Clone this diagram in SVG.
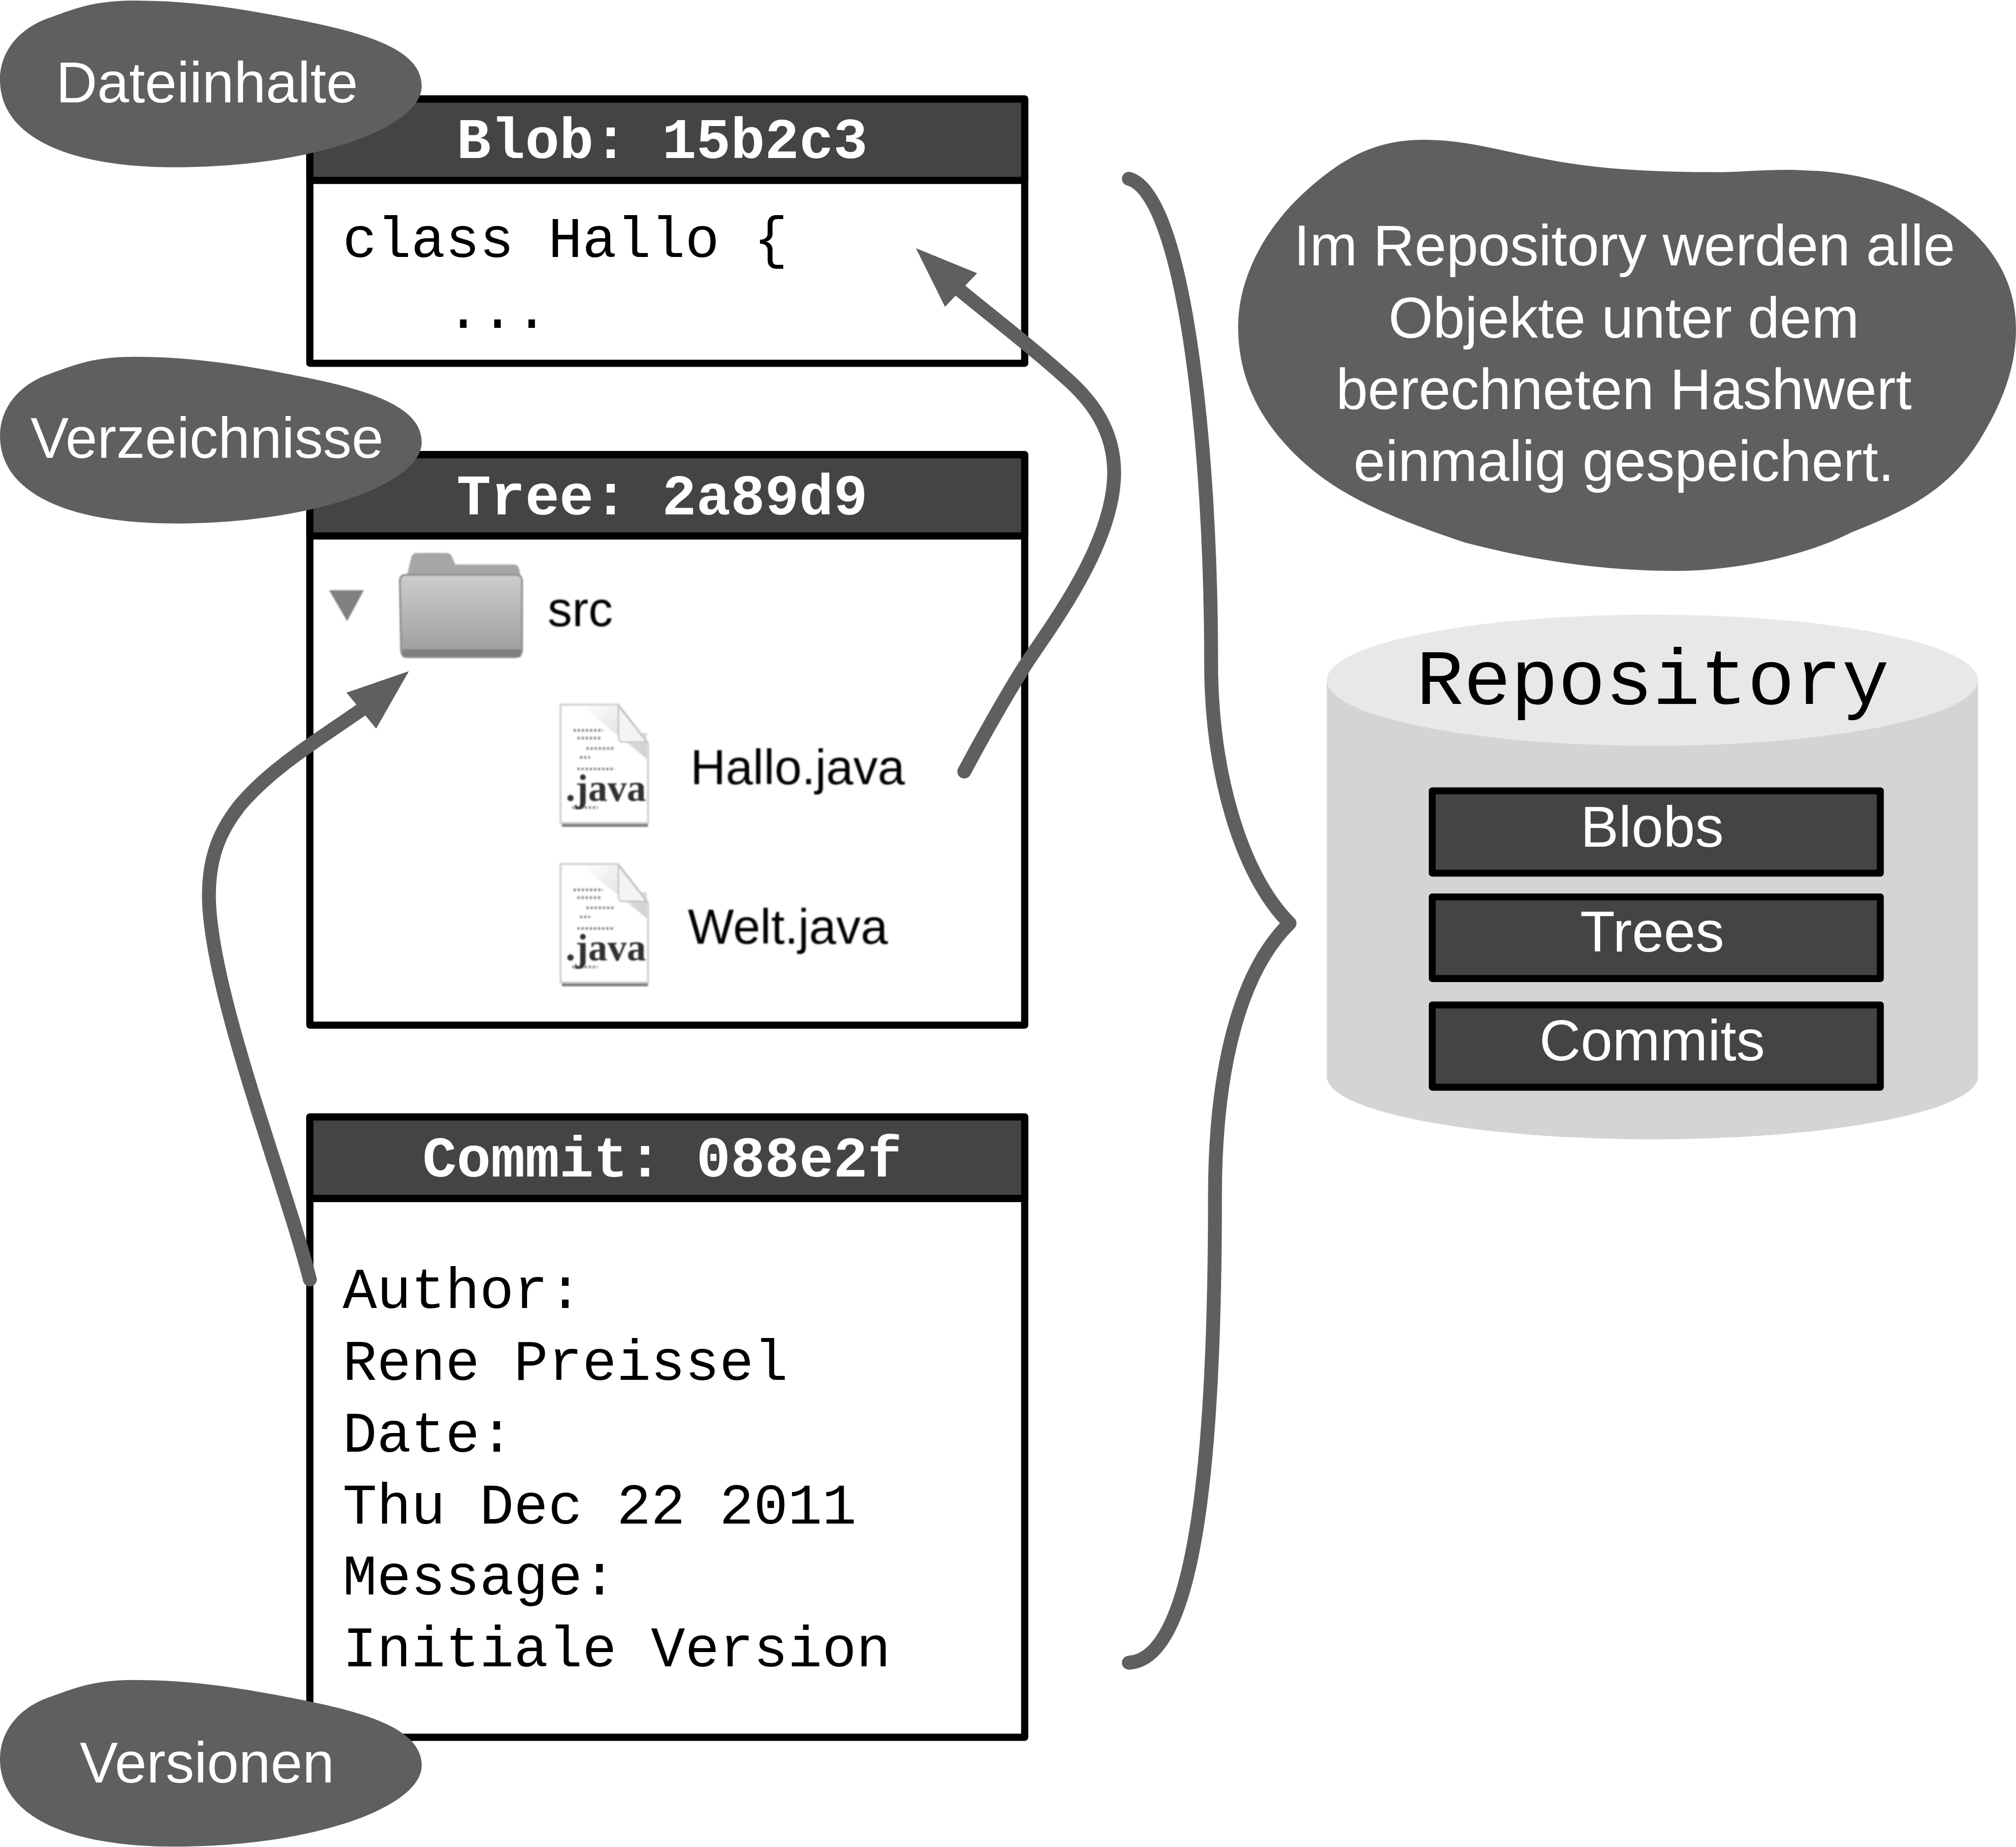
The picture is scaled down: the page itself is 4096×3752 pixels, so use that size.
<svg xmlns="http://www.w3.org/2000/svg" xmlns:xlink="http://www.w3.org/1999/xlink" width="4096" height="3752" viewBox="0 0 4096 3752">
<style>
.box{fill:#fff;stroke:#000;stroke-width:5.6;stroke-linejoin:round}
.hd{fill:#444;stroke:#000;stroke-width:5.6;stroke-linejoin:round}
.ht{font:bold 44.4px "Liberation Mono",monospace;fill:#fff;text-anchor:middle}
.mono{font:44.4px "Liberation Mono",monospace;fill:#000}
.blob{fill:#5f5f5f}
.lbl{font:44.5px "Liberation Sans",Arial,sans-serif;fill:#fff;text-anchor:middle}
.ft{font:38px "Liberation Sans",Arial,sans-serif;fill:#000;filter:url(#soft)}
.jv{font:bold 30px "Liberation Serif",serif;fill:#333;filter:url(#soft)}
.link{fill:none;stroke:#5f5f5f;stroke-width:10.8;stroke-linecap:round;stroke-linejoin:round}
.head{fill:#5f5f5f}
.store{fill:#444;stroke:#000;stroke-width:5.4;stroke-linejoin:round}
</style>
<defs>
<filter id="soft" x="-10%" y="-10%" width="120%" height="120%"><feGaussianBlur stdDeviation="0.7"/></filter>
<linearGradient id="fg" x1="0" y1="0" x2="0" y2="1"><stop offset="0" stop-color="#cdcdcd"/><stop offset="1" stop-color="#9c9c9c"/></linearGradient>
<linearGradient id="fold" x1="0" y1="0" x2="1" y2="1"><stop offset="0" stop-color="#fff"/><stop offset="1" stop-color="#bdbdbd"/></linearGradient>
<path id="callout" d="M101 .5C150 0 195 8 235 16C290 27 328 40 328 67C328 98 250 128 146 130C50 131.800 0 105 0 62C0 40 15 22 38 14C55 8 70 1 101 .5Z"/>
<g id="doc" filter="url(#soft)">
<rect x="437" y="638" width="67" height="5" fill="#7c7c7c"/>
<path d="M436 548H481L504 578V640H436Z" fill="#fff" stroke="#cfcfcf" stroke-width="1.5"/>
<path d="M452 549H481V570H503V590Z" fill="url(#fold)" opacity=".75"/>
<path d="M481 549L503 577H484Q481 577 481 572Z" fill="#f4f4f4" stroke="#bdbdbd" stroke-width="1"/>
<path d="M446 568h23M449 574h18M456 582h22M451 589h8M449 598h29M445 628h20" stroke="#8c8c8c" stroke-width="2.2" stroke-dasharray="2 1.2" fill="none"/>
</g>
</defs>
<g transform="scale(2.6122)">
<g id="blob-box">
<rect class="box" x="241" y="77" width="556" height="205.500"/>
<rect class="hd" x="241" y="77" width="556" height="63.300"/>
<text class="ht" x="515" y="123">Blob: 15b2c3</text>
<text class="mono" x="266.500" y="200">class Hallo {</text>
<text class="mono" x="347" y="255">...</text>
</g>
<g id="tree-box">
<rect class="box" x="241" y="353.600" width="556" height="443.600"/>
<rect class="hd" x="241" y="353.600" width="556" height="63.200"/>
<text class="ht" x="515" y="400">Tree: 2a89d9</text>
<path d="M256 459H283L270 483Z" fill="#808080" filter="url(#soft)"/>
<g id="folder" filter="url(#soft)">
<path d="M316 450L320 433Q321 430 324 430H347Q351 430 352 434L354 439H400Q403 439 404 443L405 450Z" fill="#a6a6a6"/>
<path d="M311 452Q311 447 316 447H401Q406 447 406 452V505Q406 511 400 511H317Q312 511 312 505Z" fill="url(#fg)" stroke="#8f8f8f" stroke-width="1.5"/>
<rect x="313" y="505" width="92" height="6" fill="#7f7f7f"/>
</g>
<text class="ft" x="426" y="487">src</text>
<use xlink:href="#doc" href="#doc"/>
<text class="jv" x="440" y="623">.java</text>
<text class="ft" x="537" y="610">Hallo.java</text>
<use xlink:href="#doc" href="#doc" y="124"/>
<text class="jv" x="440" y="747">.java</text>
<text class="ft" x="535" y="734">Welt.java</text>
</g>
<g id="commit-box">
<rect class="box" x="241" y="868.600" width="556" height="482.400"/>
<rect class="hd" x="241" y="868.600" width="556" height="63.400"/>
<text class="ht" x="515" y="915">Commit: 088e2f</text>
<text class="mono" x="266.500" y="1017">Author:</text>
<text class="mono" x="266.500" y="1073">Rene Preissel</text>
<text class="mono" x="266.500" y="1129">Date:</text>
<text class="mono" x="266.500" y="1185">Thu Dec 22 2011</text>
<text class="mono" x="266.500" y="1240">Message:</text>
<text class="mono" x="266.500" y="1296">Initiale Version</text>
</g>
<g id="connectors">
<path class="link" d="M750 600C765 572 780 545 797 518C815 490 866 425 866.600 368C866.600 335 850 312 828 293C805 272 775 249 747 226"/>
<path class="head" d="M712.400 193L760 212.500L735 238.600Z"/>
<path class="link" d="M241 995C222 920 163 770 162.500 697C162.300 665 172 645 186 627C210 598 245 577 281 552"/>
<path class="head" d="M318 522L269.500 538.600L292.600 566.600Z"/>
<path class="link" d="M878 139C920 150 942 340 942 515C942 600 965 680 1003 718C965 755 945 830 945 930C945 1100 935 1290 878 1293"/>
</g>
<g id="callout-dateiinhalte"><use xlink:href="#callout" href="#callout" class="blob"/><text class="lbl" x="161" y="79.500">Dateiinhalte</text></g>
<g id="callout-verzeichnisse"><use xlink:href="#callout" href="#callout" class="blob" y="277"/><text class="lbl" x="161" y="356">Verzeichnisse</text></g>
<g id="callout-versionen"><use xlink:href="#callout" href="#callout" class="blob" y="1306"/><text class="lbl" x="161" y="1386">Versionen</text></g>
<g id="callout-repository">
<path class="blob" d="M1107 108.700C1145 108.700 1170 119 1219.700 126.800C1260 133 1300 134 1340 133.900C1365 133 1385 131 1408 132.700C1470 134 1568 170 1568 256C1568 285 1558 312 1540.500 341C1515 383 1480 398 1440 414C1405 432 1350 444 1304 444C1245 444 1190 435 1139.500 422C1090 405 1050 390 1019 364C985 335 963 300 963 254C963 215 985 175 1019 145.600C1045 123 1070 108.700 1107 108.700Z"/>
<text class="lbl" x="1263.500" y="206.500">Im Repository werden alle</text>
<text class="lbl" x="1263" y="262.500">Objekte unter dem</text>
<text class="lbl" x="1263" y="318">berechneten Hashwert</text>
<text class="lbl" x="1263" y="374">einmalig gespeichert.</text>
</g>
<g id="repository">
<path d="M1032 529V837C1032 864 1145 886 1285 886C1425 886 1538.500 864 1538.500 837V529Z" fill="#d4d4d4"/>
<ellipse cx="1285.200" cy="529" rx="253.300" ry="51" fill="#e8e8e8"/>
<text x="1285.500" y="547.500" font-family="'Liberation Mono',monospace" font-size="61.300" fill="#000" text-anchor="middle">Repository</text>
<g id="store-blobs"><rect class="store" x="1114" y="615" width="348.500" height="64"/><text class="lbl" x="1285" y="658.500">Blobs</text></g>
<g id="store-trees"><rect class="store" x="1114" y="697.500" width="348.500" height="63.500"/><text class="lbl" x="1285" y="740">Trees</text></g>
<g id="store-commits"><rect class="store" x="1114" y="781.500" width="348.500" height="64"/><text class="lbl" x="1285" y="824.500">Commits</text></g>
</g>
</g>
</svg>
